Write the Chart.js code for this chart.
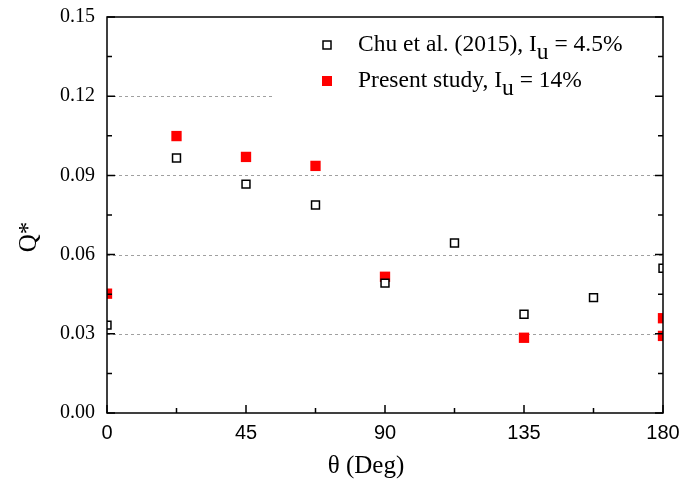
<!DOCTYPE html>
<html>
<head>
	<title>Q* vs theta</title>
	<script src="https://cdn.jsdelivr.net/npm/chart.js"></script>
	<style>
		body { margin: 0; background: #fff; }
		#wrap { width: 683px; height: 482px; }
	</style>
</head>
<body>
	<div id="wrap"><canvas id="myChart" width="683" height="482"></canvas></div>
	<script>
		// data
		var chuTheta = [0, 22.5, 45, 67.5, 90, 112.5, 135, 157.5, 180];
		var chuQ = [0.0333, 0.0966, 0.0867, 0.0788, 0.0492, 0.0644, 0.0374, 0.0437, 0.0548];
		var presentTheta = [0, 22.5, 45, 67.5, 90, 135, 180, 180];
		var presentQ = [0.0452, 0.1049, 0.0970, 0.0936, 0.0516, 0.0285, 0.0359, 0.0292];
		// legend text split round the subscript
		var legendParts = [
			['Chu et al. (2015), I', 'u', ' = 4.5%'],
			['Present study, I', 'u', ' = 14%']
		];
		var xTitle = 'θ (Deg)';
		var yTitle = 'Q*';
		var yTicks = [0, 0.03, 0.06, 0.09, 0.12, 0.15];
		var xTicks = [0, 45, 90, 135, 180];

		function pts(xs, ys) {
			var out = [];
			for (var i = 0; i < xs.length; i++) out.push({x: xs[i], y: ys[i]});
			return out;
		}

		// box, inward ticks, dashed grid, titles and legend
		var framePlugin = {
			id: 'frame',
			beforeDatasetsDraw: function(chart) {
				var ctx = chart.ctx, a = chart.chartArea;
				var ys = chart.scales.y;
				ctx.save();
				ctx.strokeStyle = '#a0a0a0';
				ctx.lineWidth = 1;
				ctx.setLineDash([3, 3]);
				for (var i = 1; i < yTicks.length - 1; i++) {
					var py = Math.round(ys.getPixelForValue(yTicks[i])) + 0.5;
					ctx.beginPath();
					ctx.moveTo(a.left, py);
					ctx.lineTo(a.right, py);
					ctx.stroke();
				}
				ctx.setLineDash([]);
				// legend box hides the grid behind it
				ctx.fillStyle = '#fff';
				ctx.fillRect(273, a.top + 1, a.right - 274, 98);
				ctx.restore();
				// markers on the edges are cut by the frame
				ctx.save();
				ctx.beginPath();
				ctx.rect(a.left, a.top, a.right - a.left, a.bottom - a.top);
				ctx.clip();
			},
			afterDatasetsDraw: function(chart) {
				chart.ctx.restore();
			},
			afterDraw: function(chart) {
				var ctx = chart.ctx, a = chart.chartArea;
				var xs = chart.scales.x, ys = chart.scales.y;
				ctx.save();
				ctx.strokeStyle = '#000';
				ctx.lineWidth = 1.5;
				ctx.strokeRect(a.left, a.top, a.right - a.left, a.bottom - a.top);
				ctx.beginPath();
				for (var v = 0; v <= 0.1501; v += 0.015) {
					var py = ys.getPixelForValue(v);
					var major = Math.abs(v / 0.03 - Math.round(v / 0.03)) < 1e-6;
					var len = major ? 8 : 5;
					ctx.moveTo(a.left, py); ctx.lineTo(a.left + len, py);
					ctx.moveTo(a.right, py); ctx.lineTo(a.right - len, py);
				}
				for (var t = 0; t <= 180; t += 22.5) {
					var px = xs.getPixelForValue(t);
					var len2 = (t % 45 === 0) ? 8 : 5;
					ctx.moveTo(px, a.bottom); ctx.lineTo(px, a.bottom - len2);
				}
				ctx.stroke();

				// axis titles, both sit off centre in the original
				ctx.fillStyle = '#000';
				ctx.font = '25px "Liberation Serif", "Times New Roman", serif';
				ctx.textAlign = 'center';
				ctx.textBaseline = 'middle';
				ctx.fillText(xTitle, 366, 466);
				ctx.save();
				ctx.translate(29, 237);
				ctx.rotate(-Math.PI / 2);
				ctx.fillText(yTitle, 0, 0);
				ctx.restore();

				// legend
				var rows = [45, 81];
				ctx.textAlign = 'left';
				ctx.font = '23.5px "Liberation Serif", "Times New Roman", serif';
				for (var r = 0; r < legendParts.length; r++) {
					var ds = chart.data.datasets[r];
					var cy = rows[r];
					if (r === 0) {
						ctx.fillStyle = '#fff';
						ctx.fillRect(323, cy - 4, 8, 8);
						ctx.strokeStyle = '#000';
						ctx.lineWidth = 1.5;
						ctx.strokeRect(323, cy - 4, 8, 8);
					} else {
						ctx.fillStyle = ds.backgroundColor;
						ctx.fillRect(322, cy - 5, 10, 10);
					}
					ctx.fillStyle = '#000';
					var p = legendParts[r];
					var x = 358;
					ctx.fillText(p[0], x, cy);
					x += ctx.measureText(p[0]).width;
					ctx.fillText(p[1], x, cy + 8);
					x += ctx.measureText(p[1]).width;
					ctx.fillText(p[2], x, cy);
				}
				ctx.restore();
			}
		};

		var ctx = document.getElementById('myChart').getContext('2d');
		var chart = new Chart(ctx, {
			type: 'scatter',
			data: {
				datasets: [{
					label: 'Chu et al. (2015), Iu = 4.5%',
					data: pts(chuTheta, chuQ),
					clip: 0,
					pointStyle: 'rect',
					pointRadius: 5.6,
					pointHoverRadius: 5.6,
					borderColor: '#000',
					backgroundColor: '#fff',
					pointBorderWidth: 1.5
				}, {
					label: 'Present study, Iu = 14%',
					data: pts(presentTheta, presentQ),
					clip: 0,
					pointStyle: 'rect',
					pointRadius: 7.3,
					pointHoverRadius: 7.3,
					borderColor: '#ff0000',
					backgroundColor: '#ff0000',
					pointBorderWidth: 0
				}]
			},
			options: {
				responsive: false,
				animation: false,
				events: [],
				layout: { padding: { top: 17, right: 20, left: 0, bottom: 0 } },
				plugins: {
					legend: { display: false },
					tooltip: { enabled: false }
				},
				scales: {
					x: {
						type: 'linear',
						min: 0, max: 180,
						afterBuildTicks: function(s) { s.ticks = xTicks.map(function(v) { return {value: v}; }); },
						afterFit: function(s) { s.height = 69; s.paddingLeft = 0; s.paddingRight = 0; },
						grid: { display: false, drawTicks: false },
						border: { display: false },
						ticks: {
							padding: 8,
							color: '#000',
							font: { family: '"Liberation Sans", Arial, sans-serif', size: 20 }
						},
						title: { display: false }
					},
					y: {
						min: 0, max: 0.15,
						afterBuildTicks: function(s) { s.ticks = yTicks.map(function(v) { return {value: v}; }); },
						afterFit: function(s) { s.width = 107; s.paddingTop = 0; s.paddingBottom = 0; },
						grid: { display: false, drawTicks: false },
						border: { display: false },
						ticks: {
							padding: 12,
							color: '#000',
							font: { family: '"Liberation Serif", "Times New Roman", serif', size: 20 },
							callback: function(v) { return v.toFixed(2); }
						},
						title: { display: false }
					}
				}
			},
			plugins: [framePlugin]
		});
	</script>
</body>
</html>
